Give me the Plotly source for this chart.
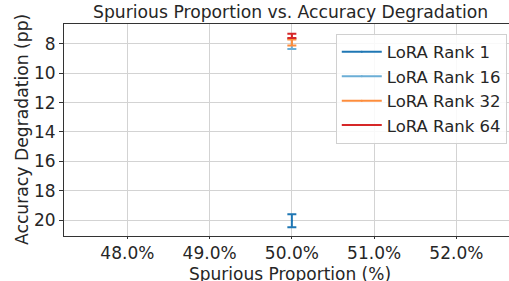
import plotly.graph_objects as go

names = ["LoRA Rank 1", "LoRA Rank 16", "LoRA Rank 32", "LoRA Rank 64"]
x_vals = [50.0, 50.0, 50.0, 50.0]
y_vals = [20.05, 8.0, 7.9, 7.45]
y_err = [0.45, 0.35, 0.2, 0.15]
colors = ["#1f77b4", "#6baed6", "#fd8d3c", "#d62728"]
x_ticks = [48, 49, 50, 51, 52]
y_ticks = [8, 10, 12, 14, 16, 18, 20]

fig = go.Figure()
for n, x, y, e, c in zip(names, x_vals, y_vals, y_err, colors):
    fig.add_trace(go.Scatter(
        x=[x], y=[y], name=n, mode="lines+markers",
        line=dict(color=c, width=2),
        marker=dict(color=c, size=2),
        error_y=dict(type="data", array=[e], visible=True, color=c, thickness=2, width=4.5),
    ))

W, H = 509, 281
L, R, T, B = 64, 0, 24, 45
PH = H - T - B
PW = W - L - R
font = "DejaVu Sans"
fig.update_layout(
    width=W, height=H,
    margin=dict(l=L, r=R, t=T, b=B, autoexpand=False),
    paper_bgcolor="white", plot_bgcolor="white",
    font=dict(family=font, size=17, color="#262626"),
    showlegend=True,
    legend=dict(x=0.995, y=0.955, xanchor="right", yanchor="top",
                bgcolor="rgba(255,255,255,0.85)", bordercolor="#d0d0d0", borderwidth=1,
                font=dict(size=16.5), itemwidth=40, tracegroupgap=0),
    annotations=[
        dict(text="Spurious Proportion vs. Accuracy Degradation", xref="paper", yref="paper",
             x=(290 - L) / PW, y=1 + (T - 12) / PH, xanchor="center", yanchor="middle",
             showarrow=False, font=dict(size=17.2)),
        dict(text="Spurious Proportion (%)", xref="paper", yref="paper",
             x=(290 - L) / PW, y=-(273.5 - (H - B)) / PH, xanchor="center", yanchor="middle",
             showarrow=False, font=dict(size=17), borderpad=0),
        dict(text="Accuracy Degradation (pp)", xref="paper", yref="paper",
             x=-(L - 22) / PW, y=0.5, xanchor="center", yanchor="middle", textangle=-90,
             showarrow=False, font=dict(size=17.2)),
    ],
)
fig.update_xaxes(
    range=[47.23, 52.64], tickvals=x_ticks, ticktext=[f"{v:.1f}%" for v in x_ticks],
    showgrid=True, gridcolor="#d3d3d3", gridwidth=1, automargin=False,
    showline=True, linecolor="#333333", linewidth=1, mirror=True,
    ticks="outside", ticklen=2, tickcolor="#333333", zeroline=False,
    tickfont=dict(size=17),
)
fig.update_yaxes(
    range=[21.09, 6.64], tickvals=y_ticks,
    showgrid=True, gridcolor="#d3d3d3", gridwidth=1, automargin=False,
    showline=True, linecolor="#333333", linewidth=1, mirror=True,
    ticks="outside", ticklen=4, tickcolor="#333333", zeroline=False,
    tickfont=dict(size=17),
)
fig.write_html("out.html", config={"displayModeBar": False},
               post_script="document.body.style.margin='0px';document.body.style.overflow='hidden';")
